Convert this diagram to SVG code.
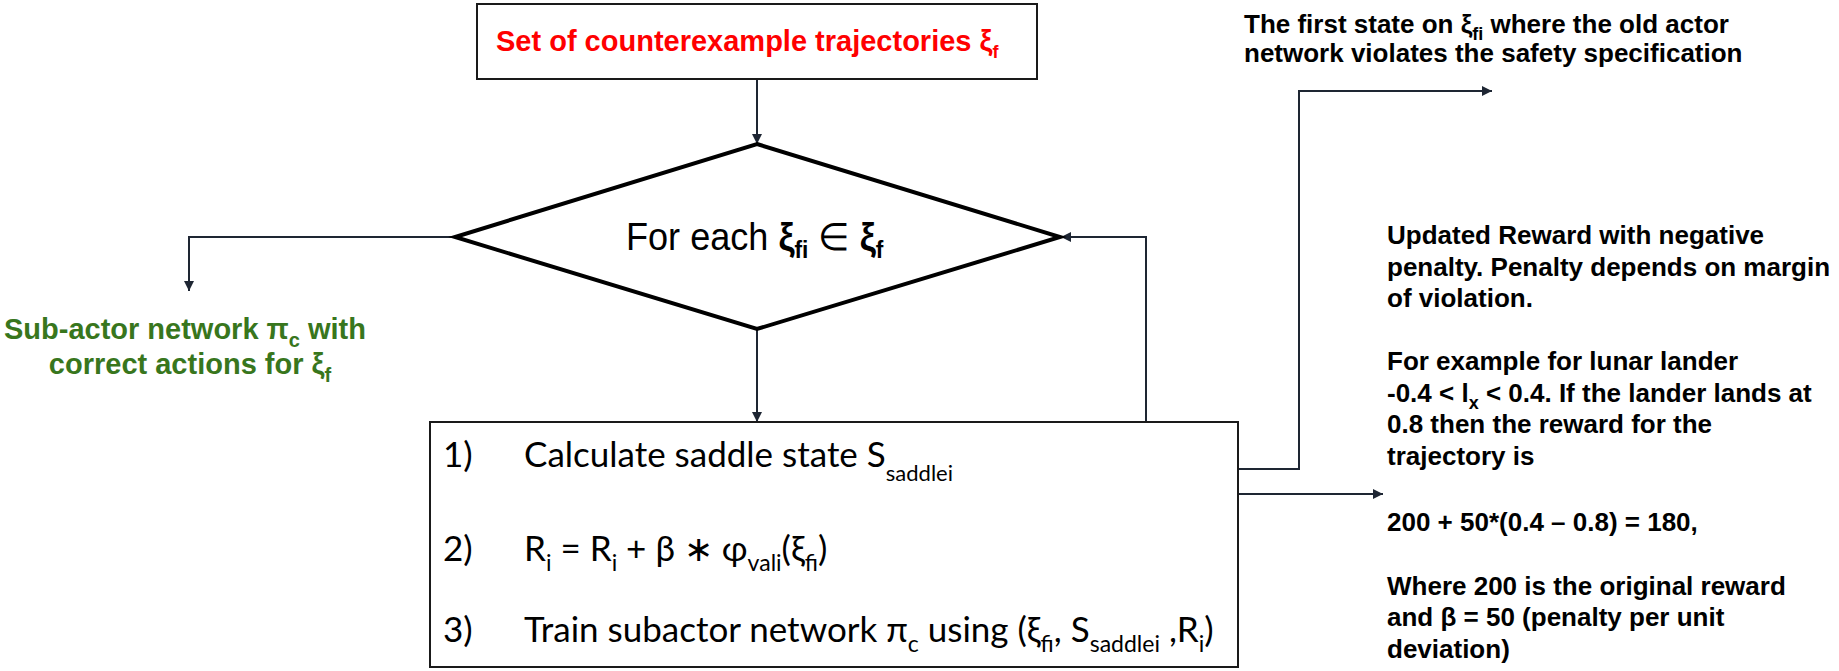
<svg xmlns="http://www.w3.org/2000/svg" width="1839" height="671" viewBox="0 0 1839 671">
  <style>
    .box { fill: #ffffff; stroke: #1a1a1a; stroke-width: 2; }
    .diamond { fill: #ffffff; stroke: #000000; stroke-width: 4; stroke-linejoin: miter; }
    .conn { fill: none; stroke: #1e2633; stroke-width: 2; }
    .bold { font-family: "Liberation Sans", Arial, sans-serif; font-weight: bold; }
    .reg { font-family: "Liberation Sans", Arial, sans-serif; }
    .cal { font-family: Lato, "Liberation Sans", sans-serif; fill: #000000; }
    .red { fill: #ff0000; }
    .green { fill: #38761d; }
    .note { fill: #000000; font-size: 26px; }
  </style>
  <defs>
    <marker id="arrow" viewBox="0 0 10 10" refX="10" refY="5" markerWidth="11" markerHeight="10" markerUnits="userSpaceOnUse" orient="auto">
      <path d="M0,0 L10,5 L0,10 z" fill="#1e2633"/>
    </marker>
  </defs>

  <!-- connectors -->
  <g id="connectors">
    <path class="conn" d="M757 79 V144" marker-end="url(#arrow)"/>
    <path class="conn" d="M757 329 V422" marker-end="url(#arrow)"/>
    <path class="conn" d="M455 237 H189 V291" marker-end="url(#arrow)"/>
    <path class="conn" d="M1146 422 V237 H1061" marker-end="url(#arrow)"/>
    <path class="conn" d="M952 469 H1299 V91 H1492" marker-end="url(#arrow)"/>
    <path class="conn" d="M824 562 H1105 V494 H1383" marker-end="url(#arrow)"/>
  </g>

  <!-- input set -->
  <g id="counterexamples">
    <rect class="box" x="477" y="4" width="560" height="75"/>
    <text class="bold red" x="496" y="51" font-size="29">Set of counterexample trajectories ξ<tspan font-size="18" dy="7">f</tspan></text>
  </g>

  <!-- loop decision -->
  <g id="loop">
    <polygon class="diamond" points="757,144 1060,237 757,329 455,237"/>
    <text class="reg" transform="translate(626 250) scale(0.95 1)" x="0" y="0" font-size="38" fill="#000">For each <tspan class="bold">ξ</tspan><tspan class="bold" font-size="24" dy="8">fi</tspan><tspan dy="-8"> ∈ </tspan><tspan class="bold">ξ</tspan><tspan class="bold" font-size="24" dy="8">f</tspan></text>
  </g>

  <!-- output -->
  <g id="subactor">
    <text class="bold green" font-size="29" text-anchor="middle">
      <tspan x="189" y="339">Sub-actor network π<tspan font-size="20" dy="8">c</tspan><tspan dy="-8"> with</tspan></tspan>
      <tspan x="190" y="374">correct actions for ξ<tspan font-size="20" dy="8">f</tspan></tspan>
    </text>
  </g>

  <!-- per-trajectory steps -->
  <g id="steps">
    <rect class="box" x="430" y="422" width="808" height="245" stroke="#000" stroke-width="2.5"/>
    <text class="cal" font-size="35">
      <tspan x="443" y="467">1)</tspan>
      <tspan x="524" y="467">Calculate saddle state S<tspan font-size="22" dy="14">saddlei</tspan></tspan>
      <tspan x="443" y="561">2)</tspan>
      <tspan x="524" y="561">R<tspan font-size="23" dy="10">i</tspan><tspan dy="-10"> = R</tspan><tspan font-size="23" dy="10">i</tspan><tspan dy="-10"> + β ∗ φ</tspan><tspan font-size="23" dy="10">vali</tspan><tspan dy="-10">(ξ</tspan><tspan font-size="23" dy="10">fi</tspan><tspan dy="-10">)</tspan></tspan>
      <tspan x="443" y="642">3)</tspan>
      <tspan x="524" y="642">Train subactor network π<tspan font-size="23" dy="10">c</tspan><tspan dy="-10"> using (ξ</tspan><tspan font-size="23" dy="10">fi</tspan><tspan dy="-10">, S</tspan><tspan font-size="23" dy="10">saddlei</tspan><tspan dy="-10"> ,R</tspan><tspan font-size="23" dy="10">i</tspan><tspan dy="-10">)</tspan></tspan>
    </text>
  </g>

  <!-- annotations -->
  <g id="note-saddle">
    <text class="bold note">
      <tspan x="1244" y="33">The first state on ξ<tspan font-size="18" dy="7">fi</tspan><tspan dy="-7"> where the old actor</tspan></tspan>
      <tspan x="1244" y="62">network violates the safety specification</tspan>
    </text>
  </g>

  <g id="note-reward">
    <text class="bold note">
      <tspan x="1387" y="244">Updated Reward with negative</tspan>
      <tspan x="1387" y="275.5">penalty. Penalty depends on margin</tspan>
      <tspan x="1387" y="307">of violation.</tspan>
      <tspan x="1387" y="370">For example for lunar lander</tspan>
      <tspan x="1387" y="401.5">-0.4 &lt; l<tspan font-size="18" dy="7">x</tspan><tspan dy="-7"> &lt; 0.4. If the lander lands at</tspan></tspan>
      <tspan x="1387" y="433">0.8 then the reward for the</tspan>
      <tspan x="1387" y="464.5">trajectory is</tspan>
      <tspan x="1387" y="531">200 + 50*(0.4 – 0.8) = 180,</tspan>
      <tspan x="1387" y="595">Where 200 is the original reward</tspan>
      <tspan x="1387" y="626">and  β = 50 (penalty per unit</tspan>
      <tspan x="1387" y="658">deviation)</tspan>
    </text>
  </g>
</svg>
